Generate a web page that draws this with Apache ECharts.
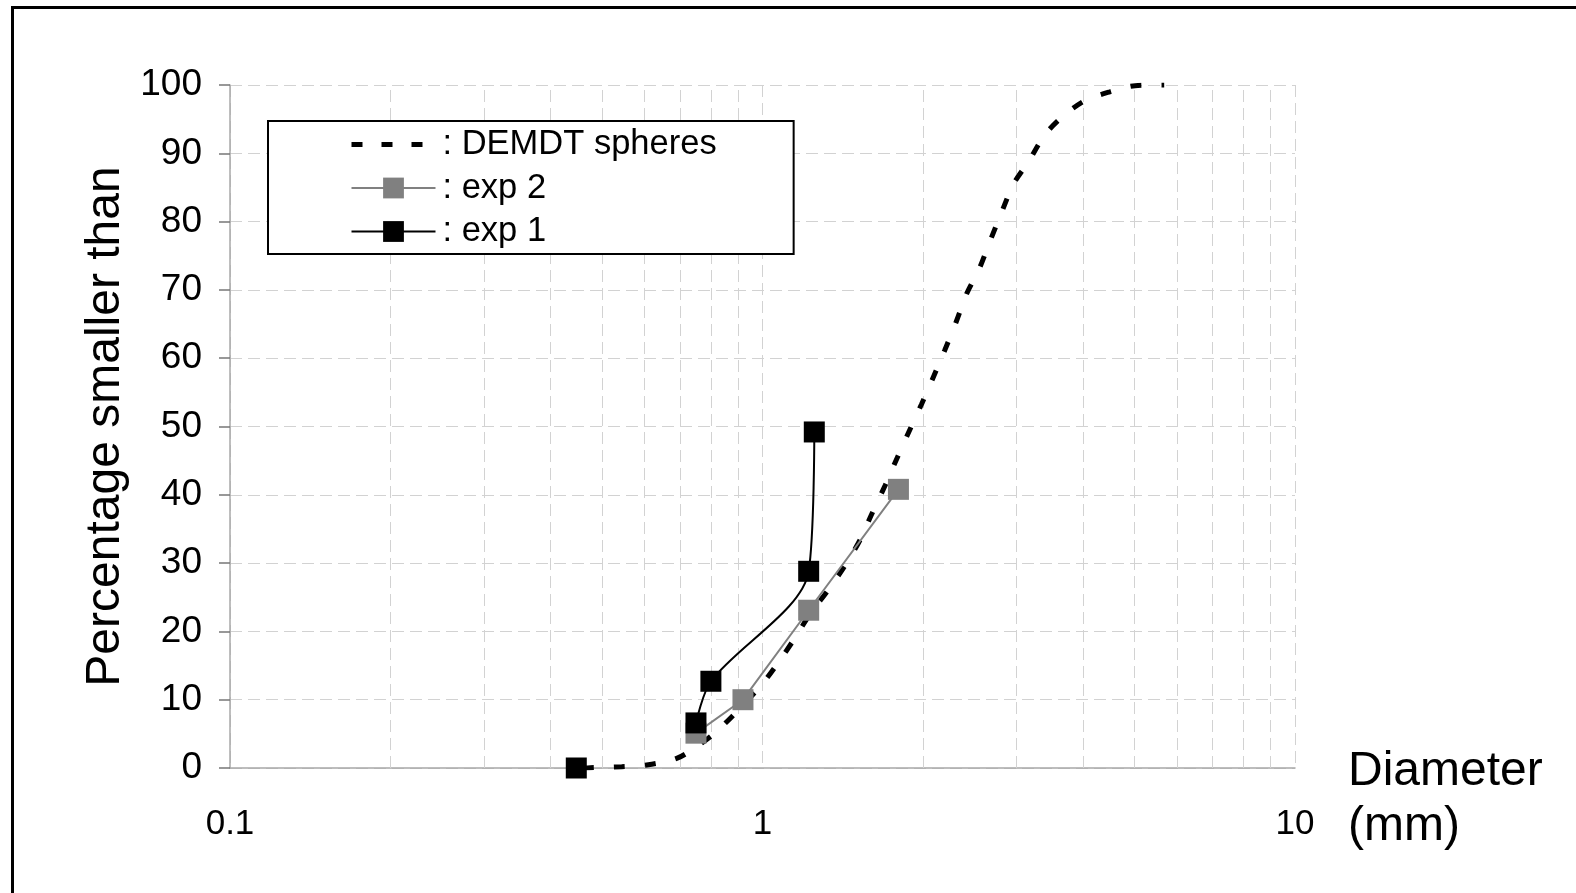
<!DOCTYPE html>
<html>
<head>
<meta charset="utf-8">
<script src="https://cdn.jsdelivr.net/npm/echarts@6/dist/echarts.min.js"></script>
<style>
html,body{margin:0;padding:0;background:#fff;}
#chart{width:1576px;height:893px;}
</style>
</head>
<body>
<div id="chart"></div>
<script>
// ---- data (diameter in mm, percentage smaller than) ----
const demdtSpheres = [
  [0.46,0],[0.475,0.05],[0.544,0.2],[0.606,0.45],[0.69,1.4],[0.761,3.4],[0.832,5.8],
  [0.989,11.9],[1.063,15.1],[1.143,18.7],[1.23,22.6],[1.33,26.1],[1.43,29.7],[1.525,33.4],
  [1.60,37.0],[1.70,41.4],[1.79,45.4],[1.89,49.5],[1.99,53.3],[2.09,57.1],[2.20,61.2],
  [2.31,65.3],[2.42,69.5],[2.55,73.0],[2.68,77.3],[2.82,81.6],[2.96,85.5],[3.16,88.8],
  [3.39,92.7],[3.65,95.3],[4.03,97.7],[4.49,99.0],[5.01,99.9],[5.68,100]
];
const exp2 = [[0.75,5.1],[0.919,10.0],[1.221,23.1],[1.80,40.8]];
const exp1Start = [[0.447,0]];
const exp1 = [[0.75,6.6],[0.80,12.7],[1.221,28.8],[1.251,49.2]];
const minorGridX = [0.2,0.3,0.4,0.5,0.6,0.7,0.8,0.9,2,3,4,5,6,7,8,9];
const seriesNames = ['DEMDT spheres','exp 2','exp 1'];
const xAxisTitle = 'Diameter\n(mm)';
const yAxisTitle = 'Percentage smaller than';

const FONT = "'Liberation Sans', Arial, Helvetica, sans-serif";
const gridColor = '#d2d2d2';

const chart = echarts.init(document.getElementById('chart'), null, {renderer:'canvas'});
chart.setOption({
  animation: false,
  backgroundColor: '#fff',
  textStyle: {fontFamily: FONT, color: '#000'},
  graphic: [{
    type: 'rect', silent: true, z: 100,
    shape: {x: 12.5, y: 7.5, width: 1700, height: 1000},
    style: {fill: 'none', stroke: '#000', lineWidth: 3}
  }],
  title: {
    text: xAxisTitle, left: 1348, top: 744,
    textStyle: {fontFamily: FONT, fontSize: 48, fontWeight: 'normal', color: '#000', lineHeight: 55},
    padding: 0
  },
  grid: {left: 230, right: 281, top: 85, bottom: 125, containLabel: false},
  legend: {
    data: [
      {name: seriesNames[0], itemStyle: {opacity: 0},
       lineStyle: {width: 5, type: [11,19], color: '#000', cap: 'butt', dashOffset: 0}},
      {name: seriesNames[1], lineStyle: {width: 2}},
      {name: seriesNames[2], lineStyle: {width: 2}}
    ],
    orient: 'vertical',
    left: 268, top: 121,
    padding: [6, 77, 5, 81],
    itemGap: 8.5,
    itemWidth: 84, itemHeight: 26,
    borderColor: '#000', borderWidth: 2,
    backgroundColor: '#fff',
    formatter: n => ': ' + n,
    textStyle: {fontFamily: FONT, fontSize: 34.5, color: '#000', padding: [0,0,0,2]},
    selectedMode: false
  },
  xAxis: {
    type: 'log', logBase: 10, min: 0.1, max: 10,
    axisLine: {show: true, onZero: false, lineStyle: {color: '#a8a8a8', width: 1.5}},
    axisTick: {show: false},
    axisLabel: {fontSize: 35, color: '#000', margin: 39, fontFamily: FONT,
      formatter: v => String(v)},
    splitLine: {show: true, lineStyle: {color: gridColor, type: [12,6], width: 1}},
    minorTick: {show: false}
  },
  yAxis: {
    type: 'value', min: 0, max: 100, interval: 10,
    name: yAxisTitle, nameLocation: 'middle', nameGap: 98,
    nameTextStyle: {fontSize: 48, color: '#000', fontFamily: FONT},
    axisLine: {show: true, lineStyle: {color: '#a8a8a8', width: 1.5}},
    axisTick: {show: true, length: 11, lineStyle: {color: '#777', width: 1.5}},
    axisLabel: {fontSize: 37, color: '#000', margin: 28, fontFamily: FONT},
    splitLine: {show: true, lineStyle: {color: gridColor, type: [12,6], width: 1}}
  },
  series: [
    {
      name: seriesNames[0], type: 'line', data: demdtSpheres,
      smooth: 0.3, symbol: 'none', showSymbol: false,
      lineStyle: {color: '#000', width: 5, type: [11,20], cap: 'butt'},
      itemStyle: {color: '#000'},
      z: 2,
      markLine: {
        silent: true, symbol: ['none','none'], label: {show: false},
        lineStyle: {color: gridColor, type: [12,6], width: 1},
        emphasis: {disabled: true},
        data: minorGridX.map(v => ({xAxis: v})),
        z: 1
      }
    },
    {
      name: seriesNames[1], type: 'line', data: exp2,
      symbol: 'rect', symbolSize: 21,
      lineStyle: {color: '#808080', width: 2},
      itemStyle: {color: '#808080'},
      z: 3
    },
    {
      name: 'exp 1 start', type: 'line', data: exp1Start,
      symbol: 'rect', symbolSize: 21, showSymbol: true,
      lineStyle: {color: '#000', width: 2},
      itemStyle: {color: '#000'},
      z: 4
    },
    {
      name: seriesNames[2], type: 'line', data: exp1,
      smooth: 0.3, symbol: 'rect', symbolSize: 21,
      lineStyle: {color: '#000', width: 2},
      itemStyle: {color: '#000'},
      z: 5
    }
  ]
});
</script>
</body>
</html>
